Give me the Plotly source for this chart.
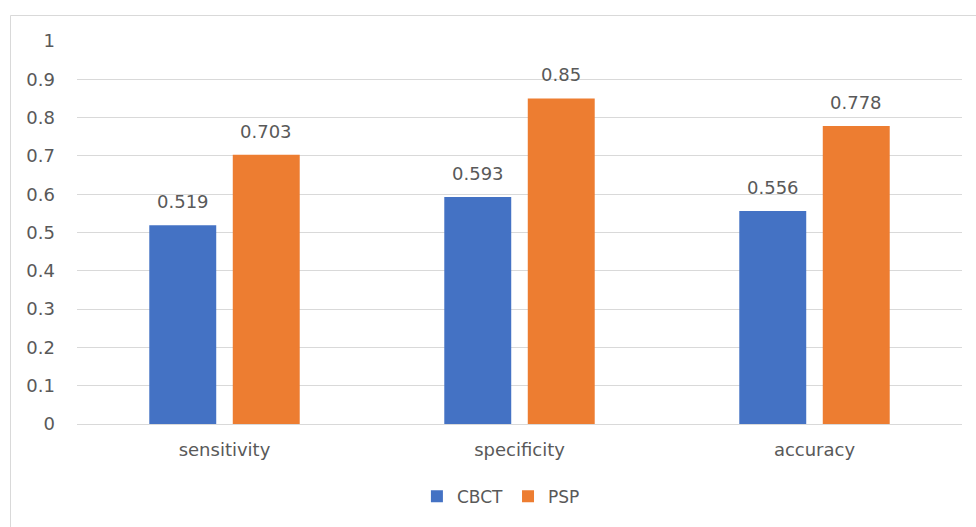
import plotly.graph_objects as go

categories = ["sensitivity", "specificity", "accuracy"]
cbct = [0.519, 0.593, 0.556]
psp = [0.703, 0.85, 0.778]
series_names = ["CBCT", "PSP"]
colors = ["#4472C4", "#ED7D31"]
y_ticks = [0, 0.1, 0.2, 0.3, 0.4, 0.5, 0.6, 0.7, 0.8, 0.9, 1]
y_tick_text = ["0", "0.1", "0.2", "0.3", "0.4", "0.5", "0.6", "0.7", "0.8", "0.9", "1"]

W, H = 976, 527
ML, MR, MT, MB = 77, 14, 41, 103
text_color = "#595959"
grid_color = "#D9D9D9"
font_family = "DejaVu Sans"

fig = go.Figure()
for name, vals, col in zip(series_names, [cbct, psp], colors):
    fig.add_trace(go.Bar(
        name=name, x=categories, y=vals,
        marker=dict(color=col, line=dict(width=0)),
    ))

# value labels above each bar (offset half a bar slot from the category centre)
plot_w = W - ML - MR
cat_w = plot_w / len(categories)
bargap = 0.434
slot = cat_w * (1 - bargap) / 2
for i, vals in enumerate([cbct, psp]):
    shift = (i - 0.5) * slot
    for c, v in zip(categories, vals):
        fig.add_annotation(
            x=c, y=v, xref="x", yref="y", text=f"{v:g}", showarrow=False,
            xshift=shift, yshift=11, yanchor="bottom",
            font=dict(family=font_family, size=18, color=text_color),
        )

# outer chart border
plot_h = H - MT - MB
def px_to_paper_x(px):
    return (px - ML) / plot_w
def px_to_paper_y(py):
    return (H - MB - py) / plot_h
fig.add_shape(
    type="rect", xref="paper", yref="paper",
    x0=px_to_paper_x(10.5), x1=px_to_paper_x(W + 5),
    y0=px_to_paper_y(H + 5), y1=px_to_paper_y(15.5),
    line=dict(color=grid_color, width=1), fillcolor="rgba(0,0,0,0)",
    layer="below",
)

fig.update_layout(
    width=W, height=H,
    margin=dict(l=ML, r=MR, t=MT, b=MB, pad=0),
    paper_bgcolor="white", plot_bgcolor="white",
    barmode="group", bargap=bargap, bargroupgap=0.198,
    font=dict(family=font_family, size=18, color=text_color),
    showlegend=True,
    legend=dict(
        orientation="h", x=0.479, xanchor="center", y=-0.19, yanchor="middle",
        font=dict(family=font_family, size=17, color=text_color),
        itemwidth=30, traceorder="normal",
    ),
    xaxis=dict(
        showgrid=False, showline=False, zeroline=False, ticks="",
        ticklabelstandoff=13,
        tickfont=dict(family=font_family, size=18, color=text_color),
    ),
    yaxis=dict(
        range=[0, 1], tickvals=y_ticks, ticktext=y_tick_text,
        showgrid=True, gridcolor=grid_color, gridwidth=1,
        zeroline=True, zerolinecolor=grid_color, zerolinewidth=1,
        showline=False, ticks="", ticklabelstandoff=21,
        tickfont=dict(family=font_family, size=18, color=text_color),
    ),
)

fig.write_html("out.html")
